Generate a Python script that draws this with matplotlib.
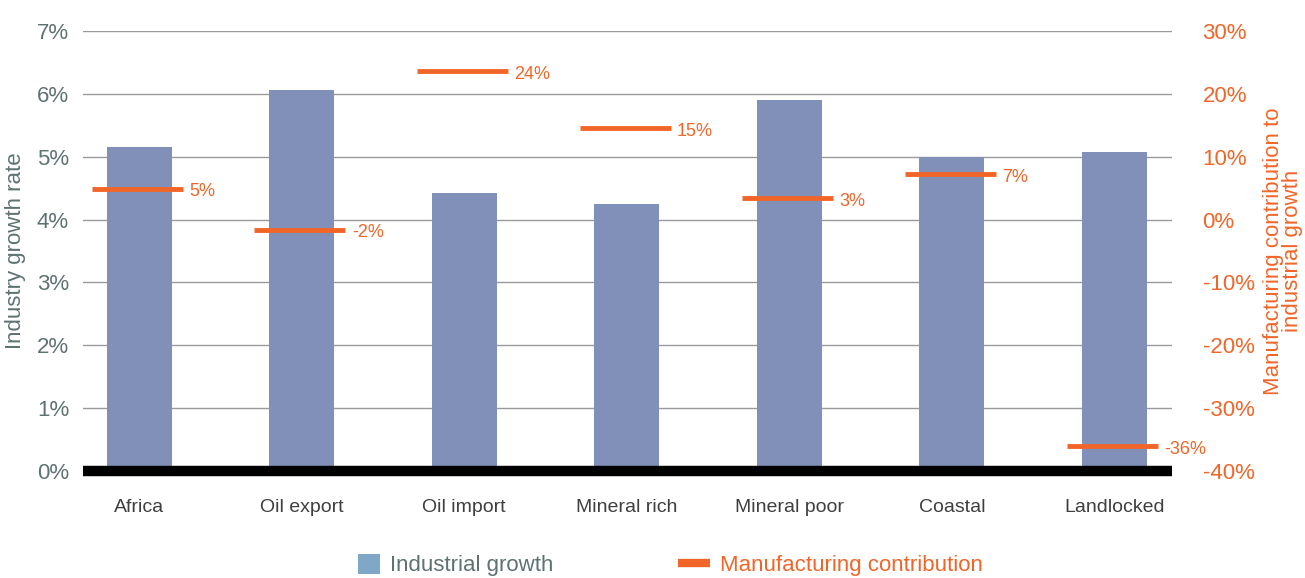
# Industry growth vs manufacturing contribution, bar + marker chart
import matplotlib.pyplot as plt
from matplotlib.patches import Patch
from matplotlib.lines import Line2D

# data
categories = ['Africa', 'Oil export', 'Oil import', 'Mineral rich',
              'Mineral poor', 'Coastal', 'Landlocked']
industry_growth = [5.16, 6.06, 4.43, 4.25, 5.90, 5.00, 5.08]
manuf_contrib = [4.9, -1.6, 23.6, 14.5, 3.4, 7.2, -36.0]
manuf_labels = ['5%', '-2%', '24%', '15%', '3%', '7%', '-36%']
left_ticks = [0, 1, 2, 3, 4, 5, 6, 7]
right_ticks = [-40, -30, -20, -10, 0, 10, 20, 30]

bar_color = '#8090B9'
legend_blue = '#7FA7C8'
orange = '#F26528'
gray_text = '#5F7272'
font = ['Liberation Sans', 'DejaVu Sans']
plt.rcParams['font.family'] = font

fig = plt.figure(figsize=(13.05, 5.78), dpi=100)
ax = fig.add_axes([83/1305, 1-471/578, (1172-83)/1305, (471-31)/578])
ax2 = ax.twinx()

x = list(range(len(categories)))
ax.bar(x, industry_growth, width=0.4, color=bar_color, zorder=2)
ax.set_ylim(0, 7)
ax.set_xlim(-0.345, 6.355)
ax.set_yticks(left_ticks)
ax.set_yticklabels([f'{t}%' for t in left_ticks])
ax.set_xticks(x)
ax.set_xticklabels(categories)
ax.grid(axis='y', color='#9a9a9a', linewidth=1, zorder=0)
ax.axhline(0, color='black', linewidth=7.5, zorder=3, clip_on=False,
           solid_capstyle='butt')
ax.tick_params(length=0)
ax.tick_params(axis='y', pad=10, labelsize=16, labelcolor=gray_text)
ax.tick_params(axis='x', pad=20, labelsize=14, labelcolor='#3f3f3f')
for s in ax.spines.values():
    s.set_visible(False)
ax.set_ylabel('Industry growth rate', fontsize=16, color=gray_text, labelpad=8)

# manufacturing contribution markers on the right axis
ax2.set_ylim(-40, 30)
ax2.hlines(manuf_contrib, [i - 0.29 for i in x], [i + 0.27 for i in x],
           color=orange, linewidth=3.5, zorder=4)
for i, v, t in zip(x, manuf_contrib, manuf_labels):
    ax2.text(i + 0.31, v - 0.5, t, color=orange, fontsize=13,
             va='center', ha='left')
ax2.set_yticks(right_ticks)
ax2.set_yticklabels([f'{t}%' for t in right_ticks])
ax2.tick_params(length=0, pad=22, labelsize=16, labelcolor=orange)
for s in ax2.spines.values():
    s.set_visible(False)
ax2.set_ylabel('Manufacturing contribution to\nindustrial growth', fontsize=16,
               color=orange, labelpad=6, linespacing=0.9)

# legend at the bottom, two separate entries
leg1 = fig.legend([Patch(facecolor=legend_blue, edgecolor='none')],
                  ['Industrial growth'], loc='center left',
                  bbox_to_anchor=(358/1305, 1-565/578), frameon=False,
                  borderpad=0, borderaxespad=0, handlelength=1.0,
                  handleheight=1.0, handletextpad=0.45, prop={'size': 16})
leg1.get_texts()[0].set_color(gray_text)
leg2 = fig.legend([Line2D([0], [0], color=orange, linewidth=6,
                          solid_capstyle='butt')],
                  ['Manufacturing contribution'], loc='center left',
                  bbox_to_anchor=(678/1305, 1-565/578), frameon=False,
                  borderpad=0, borderaxespad=0, handlelength=1.45,
                  handletextpad=0.45, prop={'size': 16})
leg2.get_texts()[0].set_color(orange)

fig.savefig('out.png', dpi=100)
